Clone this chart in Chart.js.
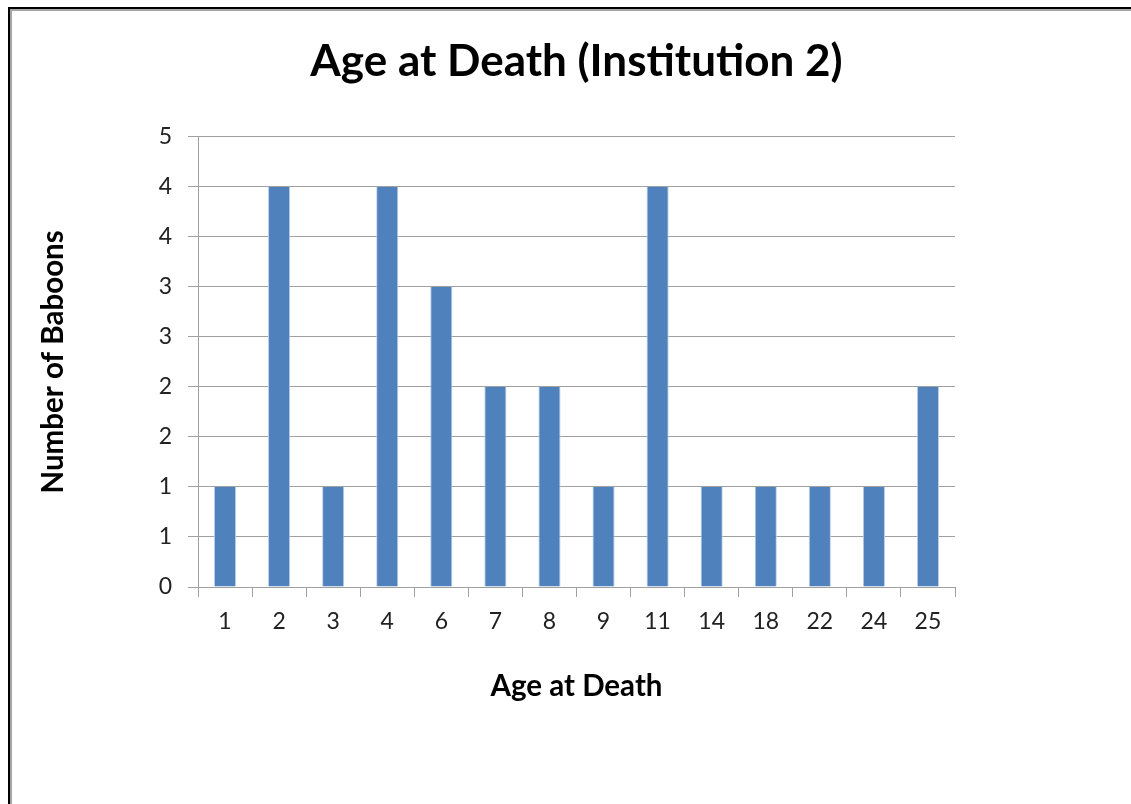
<!DOCTYPE html>
<html>
  <head>
    <script src="https://cdn.jsdelivr.net/npm/chart.js"></script>
    <style>
      html, body { margin: 0; padding: 0; background: #fff; overflow: hidden; }
      #wrap { position: relative; width: 1131px; height: 804px; }
      #frame {
        position: absolute; left: 8px; top: 7px; width: 1140px; height: 820px;
        border-left: 2px solid #000; border-top: 2px solid #000;
        box-shadow: inset 2px 2px 0 #a6a6a6; pointer-events: none;
      }
    </style>
    <script>
      // data
      const ages = ['1', '2', '3', '4', '6', '7', '8', '9', '11', '14', '18', '22', '24', '25'];
      const baboons = [1, 4, 1, 4, 3, 2, 2, 1, 4, 1, 1, 1, 1, 2];

      const fontFamily = "Lato, 'Open Sans', sans-serif";

      window.onload = function() {
        const config = {
          type: 'bar',
          data: {
            labels: ages,
            datasets: [{
              label: 'Number of Baboons',
              data: baboons,
              backgroundColor: '#4f81bd',
              borderColor: '#bcd0e8',
              borderWidth: { left: 1, right: 1, top: 0, bottom: 0 },
              categoryPercentage: 1,
              barPercentage: 0.41
            }]
          },
          options: {
            responsive: false,
            animation: false,
            layout: { padding: { left: 30, right: 176, top: 0, bottom: 100 } },
            plugins: {
              legend: { display: false },
              tooltip: { enabled: false },
              title: {
                display: true,
                fullSize: false,
                text: 'Age at Death (Institution 2)',
                color: '#000',
                font: { family: fontFamily, size: 44, weight: 'bold' },
                padding: { top: 35, bottom: 49 }
              }
            },
            scales: {
              x: {
                offset: true,
                afterFit: s => { s.height = 117; },
                grid: { offset: true, drawOnChartArea: false, drawTicks: true, tickLength: 10, color: '#a0a0a0' },
                border: { color: '#a0a0a0' },
                ticks: { color: '#222', padding: 11, font: { family: fontFamily, size: 23 } },
                title: {
                  display: true, text: 'Age at Death', color: '#000',
                  font: { family: fontFamily, size: 29.5, weight: 'bold' },
                  padding: { top: 0, bottom: 0 }
                }
              },
              y: {
                min: 0,
                max: 4.5,
                afterFit: s => { s.width = 168; },
                grid: { color: '#a0a0a0', tickLength: 10 },
                border: { color: '#a0a0a0' },
                ticks: {
                  stepSize: 0.5,
                  color: '#222',
                  padding: 16,
                  font: { family: fontFamily, size: 23 },
                  callback: v => Math.round(v)
                },
                title: {
                  display: true, text: 'Number of Baboons', color: '#000',
                  font: { family: fontFamily, size: 29.5, weight: 'bold' },
                  padding: { top: 6, bottom: 0 }
                }
              }
            }
          }
        };
        new Chart(document.getElementById('myChart'), config);
      };
    </script>
  </head>
  <body>
    <div id="wrap">
      <canvas id="myChart" width="1131" height="804"></canvas>
      <div id="frame"></div>
    </div>
  </body>
</html>
